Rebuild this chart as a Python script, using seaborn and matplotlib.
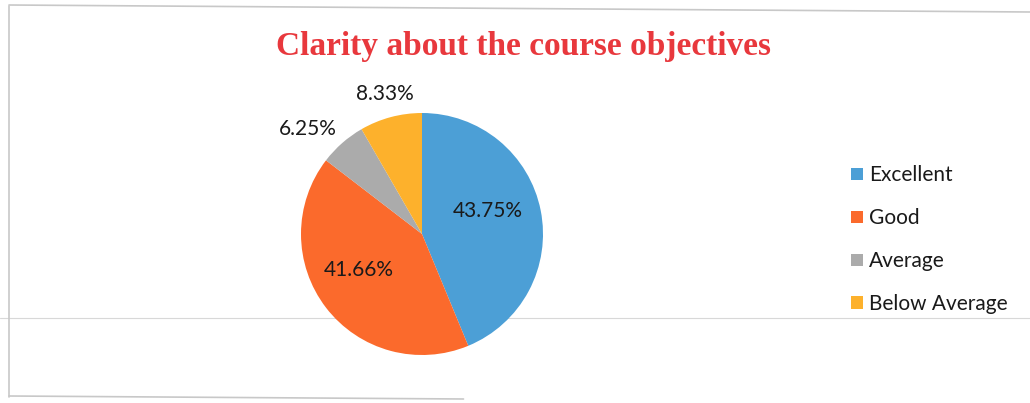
import matplotlib.pyplot as plt
import seaborn as sns
import numpy as np

# data
categories = ["Excellent", "Good", "Average", "Below Average"]
percentages = [43.75, 41.66, 6.25, 8.33]
pct_labels = ["43.75%", "41.66%", "6.25%", "8.33%"]
title = "Clarity about the course objectives"

sns.set_theme(style="white")
plt.rcParams['font.family'] = ['Lato', 'DejaVu Sans']

colors = ["#4C9FD6", "#FB6A2C", "#ABABAB", "#FDB12C"]

W, H = 1030, 403
fig = plt.figure(figsize=(W / 100, H / 100), dpi=100)

# frame of the scanned chart + faint scan line
fig.add_artist(plt.Line2D([9 / W, 9 / W], [1 - 6 / H, 1 - 397 / H], color="#c8c8c8", lw=1.2))
fig.add_artist(plt.Line2D([9 / W, 1.0], [1 - 5 / H, 1 - 12 / H], color="#c8c8c8", lw=1.2))
fig.add_artist(plt.Line2D([9 / W, 0.45], [1 - 396 / H, 1 - 399 / H], color="#c8c8c8", lw=1.2))
fig.add_artist(plt.Line2D([0.0, 1.0], [1 - 318 / H, 1 - 318 / H], color="#d8d8d8", lw=0.8, zorder=0))

# pie axes: centre (422, 234), radius 121 px
cx, cy, r = 422, 234, 121
ax = fig.add_axes([(cx - r) / W, (H - cy - r) / H, 2 * r / W, 2 * r / H])
wedges, _ = ax.pie(percentages, colors=colors, startangle=90, counterclock=False,
                   wedgeprops=dict(linewidth=0))
ax.set_xlim(-1, 1)
ax.set_ylim(-1, 1)
ax.set_aspect("equal")

# label distances: inside for the big slices, outside for the small ones
dists = [0.58, 0.6, 1.28, 1.2]
shifts = [8, -8, 6, 0]
for w, lab, d, s in zip(wedges, pct_labels, dists, shifts):
    mid = np.deg2rad((w.theta1 + w.theta2) / 2 + s)
    ax.text(d * np.cos(mid), d * np.sin(mid), lab, ha="center", va="center",
            fontsize=15, color="#1a1a1a", clip_on=False)

fig.text(523 / W, 1 - 47 / H, title, ha="center", va="center", color="#E8383D",
         fontsize=24, fontweight="bold", family=["Liberation Serif", "DejaVu Serif"])

fig.legend(wedges, categories, loc="upper left", bbox_to_anchor=(843 / W, 1 - 157 / H),
           frameon=False, fontsize=15, handlelength=0.55, handleheight=0.55,
           handletextpad=0.3, labelspacing=1.1, borderaxespad=0,
           labelcolor="#1a1a1a")

fig.savefig("out.png", dpi=100)
